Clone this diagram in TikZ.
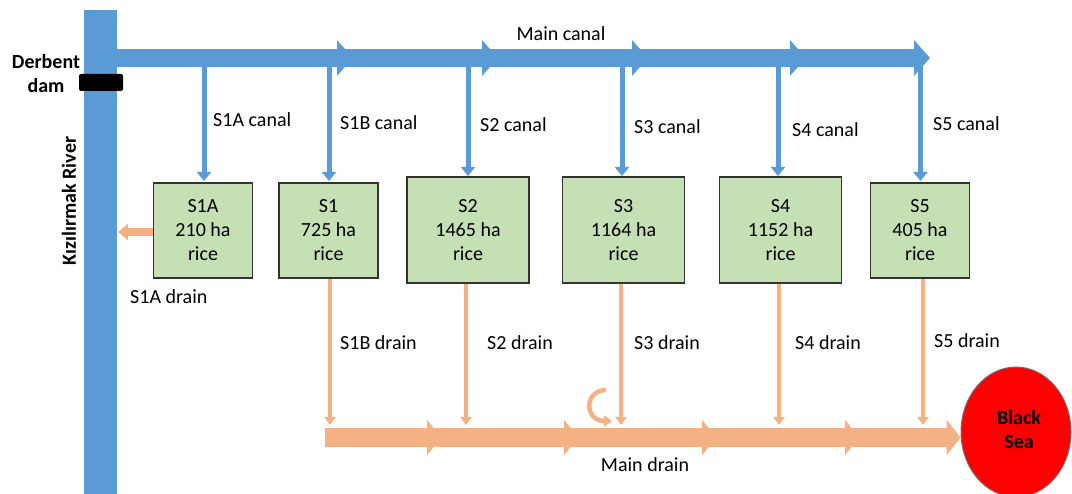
\documentclass[tikz,border=0pt]{standalone}
\usepackage{fontspec}
\setmainfont{Carlito}
\usetikzlibrary{arrows.meta,shapes.geometric}
\definecolor{cblue}{HTML}{5B9BD5}
\definecolor{corange}{HTML}{F4B183}
\definecolor{cgreen}{HTML}{C5E0B4}
\begin{document}
\begin{tikzpicture}[x=1pt,y=-1pt,
  txt/.style={font=\fontsize{20}{24}\selectfont, inner sep=0pt},
  btxt/.style={font=\fontsize{20}{24}\selectfont\bfseries, inner sep=0pt, align=center},
  canalbase/.style={draw=cblue, line width=18pt},
  canalbar/.style={canalbase, -{Triangle[width=35pt,length=16pt]}},
  canalthin/.style={draw=cblue, line width=5pt, -{Triangle[width=14pt,length=9pt]}},
  drainbase/.style={draw=corange, line width=19pt},
  drainbar/.style={drainbase, -{Triangle[width=35pt,length=14pt]}},
  drainthin/.style={draw=corange, line width=4pt, -{Triangle[width=11pt,length=8pt]}},
  drainside/.style={draw=corange, line width=8pt, -{Triangle[width=16pt,length=10pt]}},
  smallbox/.style={draw=black!80, fill=cgreen, line width=1.2pt, minimum width=99pt, minimum height=95pt, inner sep=0pt, align=center, font=\fontsize{20}{24}\selectfont},
  bigbox/.style={smallbox, minimum width=122pt, minimum height=106pt}
]
\useasboundingbox (0,0) rectangle (1072,494);

% river
\node[fill=cblue, minimum width=33pt, minimum height=484pt, inner sep=0pt, anchor=north west] (river) at (84,10) {};
\node[btxt, rotate=90] (rivername) at (69,201) {Kızılırmak River};

% main canal
\coordinate (c0) at (117,58);
\coordinate (c1) at (353,58);
\coordinate (c2) at (498,58);
\coordinate (c3) at (648,58);
\coordinate (c4) at (806,58);
\coordinate (c5) at (930,58);
\draw[canalbase] (c0) -- (c4);
\draw[canalbar] (c0) -- (c1);
\draw[canalbar] (c1) -- (c2);
\draw[canalbar] (c2) -- (c3);
\draw[canalbar] (c3) -- (c4);
\draw[canalbar] (c4) -- (c5);
\node[txt] (maincanal) at (561,34) {Main canal};

% dam
\node[fill=black, rounded corners=2pt, minimum width=44pt, minimum height=17pt, inner sep=0pt] (dam) at (101,82.5) {};
\node[btxt] (damname) at (46,74) {Derbent\\dam};

% boxes
\node[smallbox] (s1a) at (203,230.5) {S1A\\210 ha\\rice};
\node[smallbox] (s1) at (328.5,230.5) {S1\\725 ha\\rice};
\node[bigbox] (s2) at (468,230) {S2\\1465 ha\\rice};
\node[bigbox] (s3) at (623.5,230) {S3\\1164 ha\\rice};
\node[bigbox] (s4) at (780.5,230) {S4\\1152 ha\\rice};
\node[smallbox] (s5) at (920,230.5) {S5\\405 ha\\rice};

% canal branches
\coordinate (b1a) at (204,66);
\coordinate (b1) at (329,66);
\coordinate (b2) at (468,66);
\coordinate (b3) at (622,66);
\coordinate (b4) at (778,66);
\coordinate (b5) at (920.5,66);
\draw[canalthin] (b1a) -- (b1a |- 0,181);
\draw[canalthin] (b1) -- (b1 |- 0,181);
\draw[canalthin] (b2) -- (b2 |- 0,176);
\draw[canalthin] (b3) -- (b3 |- 0,176);
\draw[canalthin] (b4) -- (b4 |- 0,176);
\draw[canalthin] (b5) -- (b5 |- 0,181);

\node[txt, anchor=west] (l1a) at (213,120) {S1A canal};
\node[txt, anchor=west] (l1b) at (340,123) {S1B canal};
\node[txt, anchor=west] (l2) at (480,125) {S2 canal};
\node[txt, anchor=west] (l3) at (634,127) {S3 canal};
\node[txt, anchor=west] (l4) at (792,130) {S4 canal};
\node[txt, anchor=west] (l5) at (933,124) {S5 canal};

% S1A drain
\draw[drainside] (s1a.west |- 0,232) -- (118,232);
\node[txt, anchor=west] (d1a) at (130,297) {S1A drain};

% main drain
\coordinate (m0) at (325,437.5);
\coordinate (m1) at (441,437.5);
\coordinate (m2) at (578,437.5);
\coordinate (m3) at (716,437.5);
\coordinate (m4) at (859,437.5);
\node[ellipse, draw=black!55, line width=1pt, fill=red, minimum width=110pt, minimum height=130pt, inner sep=0pt] (sea) at (1016,432) {};
\node[btxt] (seaname) at (1019,430) {Black\\Sea};
\draw[drainbase] (m0) -- (m4);
\draw[drainbar] (m0) -- (m1);
\draw[drainbar] (m1) -- (m2);
\draw[drainbar] (m2) -- (m3);
\draw[drainbar] (m3) -- (m4);
\draw[drainbar] (m4) -- (sea.west |- m4);
\node[txt] (maindrain) at (645,465) {Main drain};

% drains
\draw[drainthin] (s1.south -| 330,0) -- (330,425);
\draw[drainthin] (s2.south -| 466,0) -- (466,425);
\draw[drainthin] (s3.south -| 621,0) -- (621,425);
\draw[drainthin] (s4.south -| 779,0) -- (779,425);
\draw[drainthin] (s5.south -| 923,0) -- (923,425);
\coordinate (hk) at (606,390);
\draw[drainthin, line width=4.5pt] (hk) .. controls (584,390) and (584,421) .. (612,421);

\node[txt, anchor=west] (d1b) at (340,343) {S1B drain};
\node[txt, anchor=west] (d2) at (487,343) {S2 drain};
\node[txt, anchor=west] (d3) at (634,343) {S3 drain};
\node[txt, anchor=west] (d4) at (795,343) {S4 drain};
\node[txt, anchor=west] (d5) at (934,341) {S5 drain};
\end{tikzpicture}
\end{document}
